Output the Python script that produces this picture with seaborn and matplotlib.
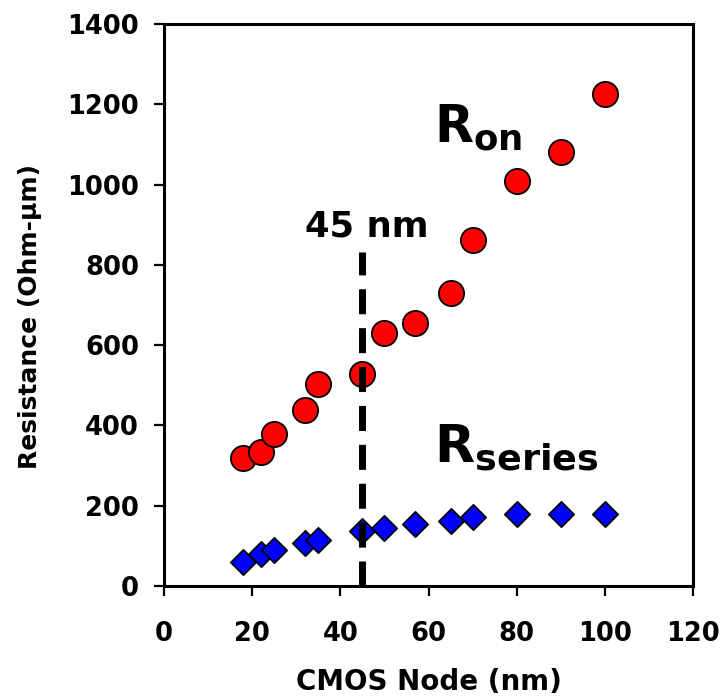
import matplotlib
matplotlib.use("Agg")
import matplotlib.pyplot as plt
import pandas as pd
import seaborn as sns

# ---- data ----
node_nm = [18, 22, 25, 32, 35, 45, 50, 57, 65, 70, 80, 90, 100]
r_on = [320, 333, 378, 438, 503, 527, 630, 655, 730, 862, 1010, 1082, 1225]
r_series = [60, 80, 90, 108, 115, 137, 145, 155, 163, 172, 180, 180, 180]
node_line_x = [45, 45]
node_line_y = [0, 832]
x_ticks = [0, 20, 40, 60, 80, 100, 120]
y_ticks = [0, 200, 400, 600, 800, 1000, 1200, 1400]

sns.set_style("white")
plt.rcParams["font.family"] = ["DejaVu Sans"]
plt.rcParams["font.weight"] = "bold"
plt.rcParams["mathtext.fontset"] = "dejavusans"
plt.rcParams["text.color"] = "black"
plt.rcParams["axes.labelcolor"] = "black"
plt.rcParams["xtick.color"] = "black"
plt.rcParams["ytick.color"] = "black"

df = pd.DataFrame({"node": node_nm, "r_on": r_on, "r_series": r_series})

fig = plt.figure(figsize=(7.22, 7.0), dpi=100)
ax = fig.add_axes([164 / 722, 114 / 700, 529 / 722, 562 / 700])

sns.scatterplot(data=df, x="node", y="r_on", ax=ax, marker="o", s=330,
                color="#ff0000", edgecolor="black", linewidth=1.3, zorder=2,
                legend=False)
sns.scatterplot(data=df, x="node", y="r_series", ax=ax, marker="D", s=165,
                color="#0000ff", edgecolor="black", linewidth=1.3, zorder=2,
                legend=False)
ax.plot(node_line_x, node_line_y, color="black", lw=5,
        linestyle=(0, (3.6, 2.0)), dash_capstyle="butt", zorder=4)

ax.set_xlim(0, 120)
ax.set_ylim(0, 1400)
ax.set_xticks(x_ticks)
ax.set_yticks(y_ticks)

for sp in ax.spines.values():
    sp.set_visible(True)
    sp.set_color("black")
    sp.set_linewidth(2.2)

ax.tick_params(axis="both", which="both", direction="out", length=7,
               width=1.6, color="black", labelsize=18.5, labelcolor="black",
               top=False, right=False, bottom=True, left=True)
ax.tick_params(axis="x", pad=18)
ax.tick_params(axis="y", pad=11)

ax.set_xlabel("CMOS Node (nm)", fontsize=20, fontweight="bold",
              color="black", labelpad=15)
ax.set_ylabel("Resistance (Ohm-\u00b5m)", fontsize=18, fontweight="bold",
              color="black")
ax.yaxis.set_label_coords(-0.231, 0.479)

ax.text(46.1, 870, "45 nm", fontsize=25.5, fontweight="bold",
        color="black", ha="center", va="baseline")
ax.text(61.2, 1106, r"$\mathbf{R_{on}}$", fontsize=36.5, color="black",
        ha="left", va="baseline")
ax.text(61.2, 309, r"$\mathbf{R_{series}}$", fontsize=37.5, color="black",
        ha="left", va="baseline")

fig.savefig("out.png", dpi=100)
